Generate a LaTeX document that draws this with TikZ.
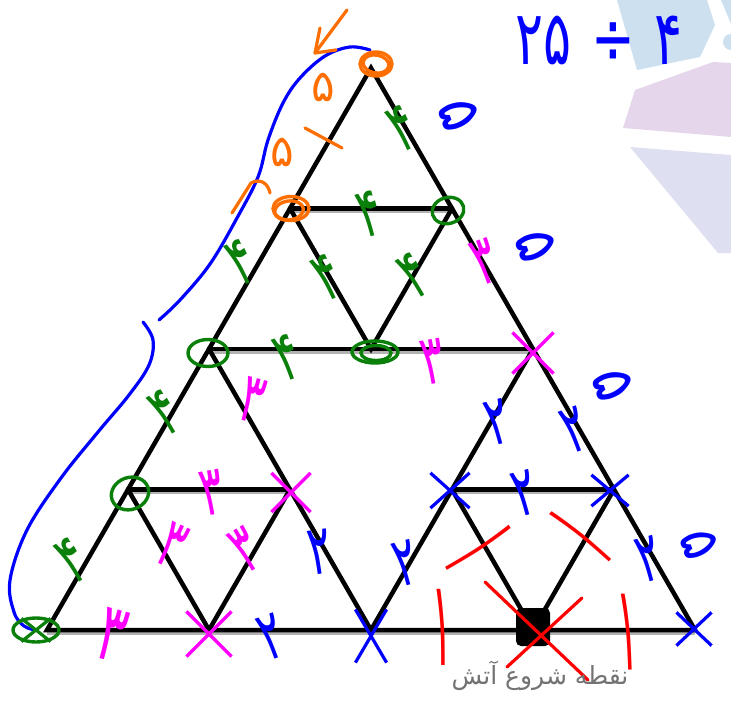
\documentclass[tikz,border=0pt]{standalone}
\usepackage{fontspec}
\newfontfamily\fa[Script=Arabic]{DejaVu Sans}
\TeXXeTstate=1
\usetikzlibrary{shapes.geometric,shapes.misc,calc}
\definecolor{handorange}{RGB}{255,110,0}
\definecolor{handgreen}{RGB}{10,128,10}
\definecolor{handpink}{RGB}{255,0,255}
\definecolor{handblue}{RGB}{0,0,255}
\definecolor{handred}{RGB}{255,0,0}
\definecolor{captiongray}{RGB}{115,115,115}
\definecolor{logoblue}{RGB}{205,224,240}
\definecolor{logopurple}{RGB}{229,214,236}
\definecolor{logolavender}{RGB}{223,223,242}
\newcommand\hw[1]{\scalebox{0.9}[1.45]{#1}}
\newcommand\tick[1]{\scalebox{1}[3]{#1}}
\tikzset{
  edge/.style={line width=4.5pt,black,line cap=round},
  halo/.style={line width=4pt,black!30},
  hand/.style={line width=3.2pt,line cap=round,line join=round},
  ring/.style={draw,ellipse,line width=3.4pt,inner sep=0pt},
  burnt/.style={draw,cross out,line width=3.2pt,inner sep=0pt},
  digit/.style={font=\fa\fontsize{48}{48}\selectfont,inner sep=0pt},
  one/.style={font=\fa\fontsize{40}{40}\selectfont,inner sep=0pt,text=handred},
}
\begin{document}
\begin{tikzpicture}[x=1pt,y=-1pt]
\useasboundingbox (0,0) rectangle (731,701);
% logo pieces in the corner
\fill[logoblue] (617,0) -- (707,0) -- (715,25) -- (700,57) -- (637,70) -- cycle;
\fill[logoblue] (721,0) -- (731,0) -- (731,24) -- cycle;
\fill[logoblue] (731,42) circle (8);
\fill[logopurple] (635,90) -- (713,62) -- (731,63) -- (731,137) -- (623,128) -- cycle;
\fill[logolavender] (630,147) -- (731,155) -- (731,253) -- (718,253) -- cycle;
% lattice points
\coordinate (v00) at (371,68);
\coordinate (v10) at (290,208.5);
\coordinate (v11) at (452,208.5);
\coordinate (v20) at (209,349);
\coordinate (v21) at (371,349);
\coordinate (v22) at (533,349);
\coordinate (v30) at (128,489.5);
\coordinate (v31) at (290,489.5);
\coordinate (v32) at (452,489.5);
\coordinate (v33) at (614,489.5);
\coordinate (v40) at (47,630);
\coordinate (v41) at (209,630);
\coordinate (v42) at (371,630);
\coordinate (v43) at (533,630);
\coordinate (v44) at (695,630);
% grey shadow under the rows
\draw[halo] ([yshift=-2.5pt]v10) -- ([yshift=-2.5pt]v11);
\draw[halo] ([yshift=-2.5pt]v20) -- ([yshift=-2.5pt]v22);
\draw[halo] ([yshift=-2.5pt]v30) -- ([yshift=-2.5pt]v31);
\draw[halo] ([yshift=-2.5pt]v32) -- ([yshift=-2.5pt]v33);
\draw[halo] ([yshift=-2.5pt]v40) -- ([yshift=-2.5pt]v44);
% edges
\draw[edge] (v00) -- (v40) -- (v44) -- cycle;
\draw[edge] (v10) -- (v11) (v20) -- (v22) (v30) -- (v31) (v32) -- (v33);
\draw[edge] (v10) -- (v21) -- (v11);
\draw[edge] (v20) -- (v42) -- (v22);
\draw[edge] (v30) -- (v41) -- (v31);
\draw[edge] (v32) -- (v43) -- (v33);
\node[fill=black,minimum width=34pt,minimum height=38pt,rounded corners=5pt,inner sep=0pt] (fire) at ($(v43)+(0,-3)$) {};
% blue path round the left side
\draw[hand,handblue] plot[smooth,tension=0.6] coordinates {(370,50) (350,47) (325,56) (300,78) (283,103) (268,140) (258,177) (237,218) (210,264) (180,300) (159,320)};
\draw[hand,handblue] plot[smooth,tension=0.6] coordinates {(143,322) (153,340) (149,365) (129,395) (98,432) (61,478) (27,530) (10,580) (14,612) (24,626) (36,630)};
% orange marks
\draw[hand,handorange] (347,10) -- (315,53);
\draw[hand,handorange] (320,28) -- (315,53) -- (336,50);
\draw[hand,handorange] (232,213) -- (251,183) .. controls (260,178) and (268,183) .. (270,193);
\draw[hand,handorange] (305,128) -- (342,148);
\node[ring,handorange,minimum width=32pt,minimum height=24pt] (c00) at ($(v00)+(5,-4)$) {};
\node[ring,handorange,minimum width=26pt,minimum height=18pt,rotate=-10] at (c00) {};
\node[ring,handorange,minimum width=36pt,minimum height=24pt] (c10) at ($(v10)+(1,0)$) {};
\node[ring,handorange,minimum width=29pt,minimum height=19pt,rotate=8] at ($(c10)+(-2,2)$) {};
\node[digit,handorange,font=\fa\fontsize{44}{44}\selectfont] (o1) at (323,87) {۵};
\node[digit,handorange,font=\fa\fontsize{44}{44}\selectfont] (o2) at (282,152) {۵};
% green rings
\node[ring,handgreen,minimum width=32pt,minimum height=26pt,rotate=15] (c11) at ($(v11)+(-4,2)$) {};
\node[ring,handgreen,minimum width=40pt,minimum height=27pt] (c20) at ($(v20)+(-1,4)$) {};
\node[ring,handgreen,minimum width=46pt,minimum height=22pt] (c21) at ($(v21)+(4,3)$) {};
\node[ring,handgreen,minimum width=30pt,minimum height=15pt] at ($(c21)+(1,1)$) {};
\node[ring,handgreen,minimum width=38pt,minimum height=32pt,rotate=20] (c30) at ($(v30)+(2,4)$) {};
\node[ring,handgreen,minimum width=46pt,minimum height=24pt] (c40) at ($(v40)+(-11,0)$) {};
\node[burnt,handgreen,minimum width=26pt,minimum height=20pt] at (c40) {};
\node[digit,handgreen,rotate=25] (g1) at (403,128) {\hw{۴}};
\node[digit,handgreen,rotate=15] (g2) at (370,214) {\hw{۴}};
\node[digit,handgreen,rotate=25] (g3) at (242,262) {\hw{۴}};
\node[digit,handgreen,rotate=25] (g4) at (328,277) {\hw{۴}};
\node[digit,handgreen,rotate=30] (g5) at (414,275) {\hw{۴}};
\node[digit,handgreen,rotate=20] (g6) at (288,357) {\hw{۴}};
\node[digit,handgreen,rotate=30] (g7) at (165,412) {\hw{۴}};
\node[digit,handgreen,rotate=30] (g8) at (72,560) {\hw{۴}};
% pink marks
\node[burnt,handpink,minimum size=38pt] (x22) at ($(v22)+(0,4)$) {};
\node[burnt,handpink,minimum size=36pt] (x31) at ($(v31)+(1,3)$) {};
\node[burnt,handpink,minimum size=42pt] (x41) at ($(v41)+(0,4)$) {};
\node[digit,handpink,rotate=20] (p1) at (485,262) {\hw{۳}};
\node[digit,handpink,rotate=10] (p2) at (433,362) {\hw{۳}};
\node[digit,handpink,rotate=-15] (p3) at (252,400) {\hw{۳}};
\node[digit,handpink,rotate=10] (p4) at (212,493) {\hw{۳}};
\node[digit,handpink,rotate=-25] (p5) at (172,545) {\hw{۳}};
\node[digit,handpink,rotate=30] (p6) at (245,550) {\hw{۳}};
\node[digit,handpink,rotate=-15,font=\fa\fontsize{56}{56}\selectfont] (p7) at (112,635) {\hw{۳}};
% blue marks
\node[burnt,handblue,minimum width=28pt,minimum height=50pt] (x42) at ($(v42)+(0,6)$) {};
\node[burnt,handblue,minimum width=36pt,minimum height=32pt] (x32) at ($(v32)+(-2,1)$) {};
\node[burnt,handblue,minimum width=34pt,minimum height=28pt] (x33) at ($(v33)+(-4,1)$) {};
\node[burnt,handblue,minimum width=32pt,minimum height=30pt] (x44) at ($(v44)+(-1,-1)$) {};
\node[digit,handblue,rotate=8] (b1) at (320,552) {\hw{۲}};
\node[digit,handblue,rotate=20] (b2) at (272,637) {\hw{۲}};
\node[digit,handblue,rotate=15] (b3) at (406,563) {\hw{۲}};
\node[digit,handblue,rotate=15] (b4) at (498,422) {\hw{۲}};
\node[digit,handblue,rotate=15] (b5) at (525,493) {\hw{۲}};
\node[digit,handblue,rotate=20] (b6) at (575,430) {\hw{۲}};
\node[digit,handblue,rotate=15] (b7) at (649,559) {\hw{۲}};
\node[digit,handblue,rotate=-70,font=\fa\fontsize{58}{58}\selectfont] (f1) at (459,115) {۵};
\node[digit,handblue,rotate=-70,font=\fa\fontsize{58}{58}\selectfont] (f2) at (536,246) {۵};
\node[digit,handblue,rotate=-70,font=\fa\fontsize{58}{58}\selectfont] (f3) at (613,385) {۵};
\node[digit,handblue,rotate=-70,font=\fa\fontsize{54}{54}\selectfont] (f4) at (700,544) {۵};
\node[digit,handblue,font=\fa\fontsize{58}{58}\selectfont] (sum) at (599,40) {\scalebox{0.9}[1.3]{۲۵\hspace{22pt}÷\hspace{22pt}۴}};
% red marks round the start
\node[one,rotate=-60] (r1) at (479,549) {\tick{۱}};
\node[one,rotate=48] (r2) at (581,536) {\tick{۱}};
\node[one] (r3) at (442,627) {\tick{۱}};
\node[one,rotate=2] (r4) at (628,632) {\tick{۱}};
\draw[hand,handred] ($(v43)+(-48,-48)$) -- ($(v43)+(55,50)$);
\draw[hand,handred] ($(v43)+(49,-32)$) -- ($(v43)+(-26,37)$);
\node[font=\fa\fontsize{25}{25}\selectfont,text=captiongray,inner sep=0pt] (start) at (540,676) {\beginR نقطه شروع آتش\endR};
\end{tikzpicture}
\end{document}
